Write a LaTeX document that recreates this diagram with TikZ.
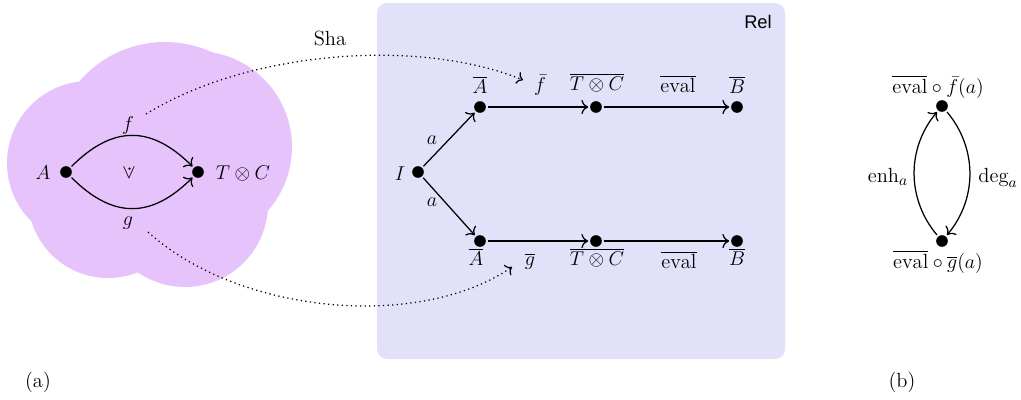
\documentclass[tikz,border=0pt]{standalone}
\usepackage{fontspec}
\newfontfamily\relfont{Liberation Sans}
\usetikzlibrary{arrows.meta}
\definecolor{cloudc}{RGB}{230,195,250}
\definecolor{relc}{RGB}{225,225,250}
\begin{document}
\begin{tikzpicture}[x=0.6pt,y=-0.6pt,
  dot/.style={circle,fill=black,inner sep=0pt,minimum size=7pt},
  lbl/.style={inner sep=1pt,font=\fontsize{12.3}{14}\selectfont},
  arr/.style={-{To[scale=1.25]},line width=0.75pt,shorten >=1pt,shorten <=1pt},
  dotarr/.style={-{To[scale=1.1]},dotted,line width=0.75pt}]
\useasboundingbox (0,0) rectangle (1021,399);
% cloud
\fill[cloudc] (165,155) circle (113);
\fill[cloudc] (89,163) circle (82);
\fill[cloudc] (196,147) circle (96);
\fill[cloudc] (185,204) circle (83);
\fill[cloudc] (108,198) circle (80);
% Rel box
\fill[relc,rounded corners=6pt] (377,3) rectangle (785,359);
\node[lbl,font=\relfont\fontsize{11}{13}\selectfont] (rel) at (758,22) {Rel};
% left diagram
\node[dot] (A) at (66,172) {};
\node[dot] (TC) at (198,172) {};
\node[lbl] (Al) at (43,173) {$A$};
\node[lbl] (TCl) at (243,173) {$T\otimes C$};
\node[lbl] (f) at (128,125) {$f$};
\node[lbl] (g) at (128,223) {$g$};
\node[lbl] (v) at (129,173) {$\vee$};
\node[circle,fill=black,inner sep=0pt,minimum size=1.5pt] (vd) at (129.5,168.5) {};
\draw[arr] (A) to[bend left=45,looseness=1.25] (TC);
\draw[arr] (A) to[bend right=45,looseness=1.25] (TC);
% Rel diagram
\node[dot] (I) at (418,172) {};
\node[lbl] (Il) at (400,174) {$I$};
\node[dot] (A1) at (480,107) {};
\node[dot] (T1) at (596,107) {};
\node[dot] (B1) at (737,107) {};
\node[dot] (A2) at (480,241) {};
\node[dot] (T2) at (596,241) {};
\node[dot] (B2) at (737,241) {};
\node[lbl] (A1l) at (480,85) {$\overline{A}$};
\node[lbl] (fb) at (540,85) {$\bar{f}$};
\node[lbl] (T1l) at (597,83) {$\overline{T\otimes C}$};
\node[lbl] (e1) at (678,84) {$\overline{\mathrm{eval}}$};
\node[lbl] (B1l) at (737,85) {$\overline{B}$};
\node[lbl] (A2l) at (476,257) {$\overline{A}$};
\node[lbl] (gb) at (530,261) {$\overline{g}$};
\node[lbl] (T2l) at (597,258) {$\overline{T\otimes C}$};
\node[lbl] (e2) at (679,260) {$\overline{\mathrm{eval}}$};
\node[lbl] (B2l) at (737,257) {$\overline{B}$};
\node[lbl] (a1) at (432,140) {$a$};
\node[lbl] (a2) at (432,202) {$a$};
\draw[arr] (I) -- (A1);
\draw[arr] (I) -- (A2);
\draw[arr] (A1) -- (T1);
\draw[arr] (T1) -- (B1);
\draw[arr] (A2) -- (T2);
\draw[arr] (T2) -- (B2);
% Sha connectors
\coordinate (fs) at (146,114);
\coordinate (fe) at (523,80);
\coordinate (gs) at (148,232);
\coordinate (ge) at (512,267);
\draw[dotarr] (fs) .. controls (250,50) and (420,38) .. (fe);
\draw[dotarr] (gs) .. controls (240,315) and (420,330) .. (ge);
\node[lbl] (sha) at (330,38) {Sha};
% right diagram
\node[dot] (P) at (942,106) {};
\node[dot] (Q) at (942,241) {};
\node[lbl] (Pl) at (938,87) {$\overline{\mathrm{eval}}\circ\bar{f}(a)$};
\node[lbl] (Ql) at (938,262) {$\overline{\mathrm{eval}}\circ\overline{g}(a)$};
\draw[arr] (Q) to[bend left=40] (P);
\draw[arr] (P) to[bend left=40] (Q);
\node[lbl] (enh) at (888,177) {$\mathrm{enh}_a$};
\node[lbl] (deg) at (998,178) {$\mathrm{deg}_a$};
% captions
\node[lbl] (capa) at (38,382) {(a)};
\node[lbl] (capb) at (902,382) {(b)};
\end{tikzpicture}
\end{document}
